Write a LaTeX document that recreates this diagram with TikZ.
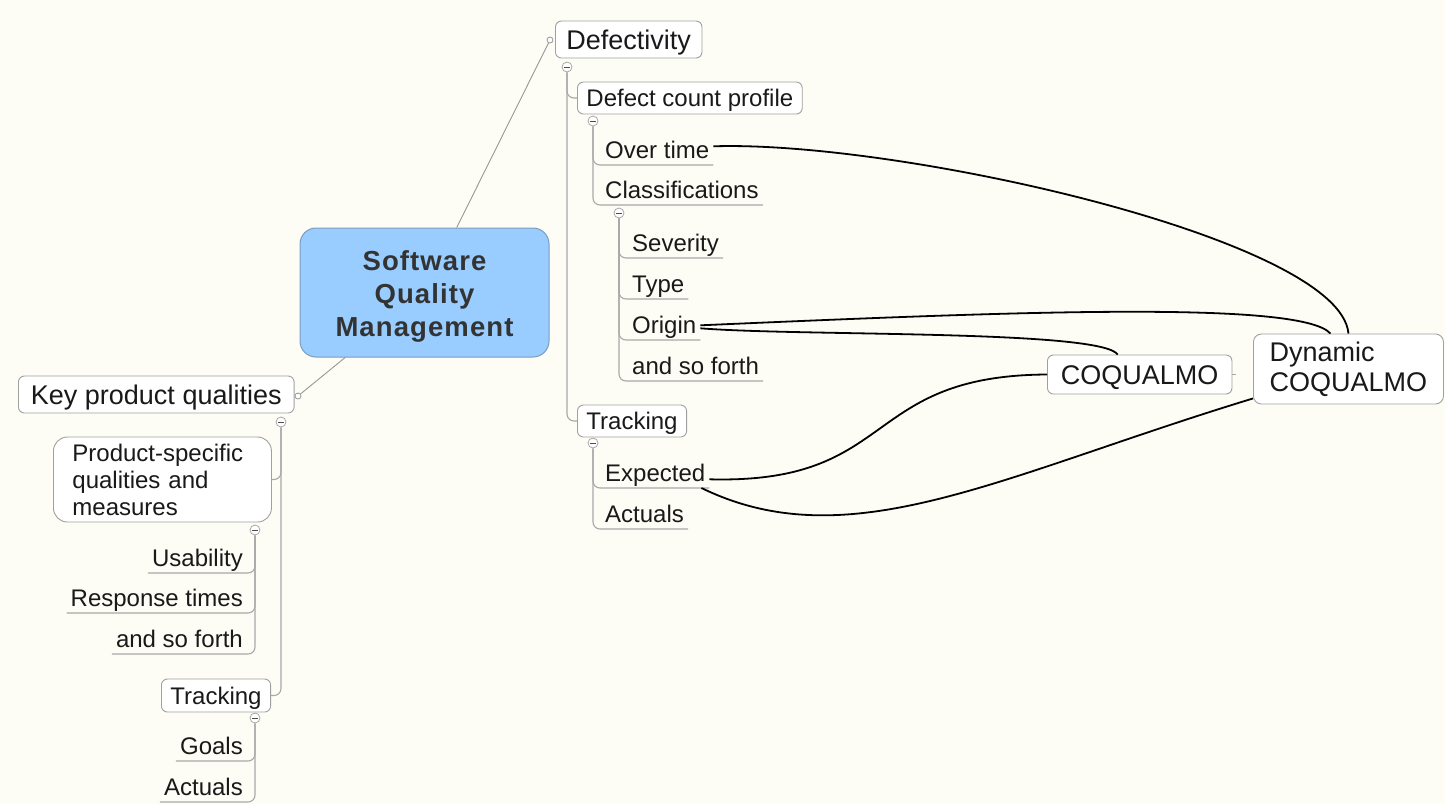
\documentclass[tikz,border=0pt]{standalone}
\usepackage{fontspec}
\setmainfont{Liberation Sans}
\newfontfamily\smqfont[LetterSpace=4]{Liberation Sans}
\usetikzlibrary{calc}
\definecolor{bgc}{RGB}{253,253,246}
\definecolor{boxline}{RGB}{160,160,160}
\definecolor{treeline}{RGB}{168,168,168}
\definecolor{txt}{RGB}{25,25,25}
\definecolor{smqfill}{RGB}{153,204,255}
\definecolor{smqline}{RGB}{125,155,190}
\definecolor{smqtxt}{RGB}{51,51,51}
\begin{document}
\begin{tikzpicture}[x=1pt,y=-1pt,
  basebox/.style={draw=boxline, fill=white, rounded corners=6pt, line width=0.9pt, text=txt, inner xsep=9pt, inner ysep=0pt},
  bigf/.style={font=\fontsize{27}{30}\selectfont},
  smf/.style={font=\fontsize{24}{27}\selectfont},
  boxb/.style={basebox, bigf, text height=24.4pt, text depth=5pt},
  boxs/.style={basebox, smf, text height=21.7pt, text depth=4.5pt},
  leafr/.style={smf, anchor=south west, inner xsep=4pt, inner ysep=1pt, text height=18pt, text depth=5pt, text=txt},
  leafl/.style={leafr, anchor=south east},
  tree/.style={draw=treeline, line width=1.1pt, rounded corners=7pt},
  rootline/.style={draw=treeline!90!black, line width=0.9pt},
  marker/.style={circle, draw=treeline, fill=white, line width=0.8pt, minimum size=10pt, inner sep=0pt,
    path picture={\draw[black!70, line width=0.9pt] ([xshift=-2.6pt]path picture bounding box.center) -- ([xshift=2.6pt]path picture bounding box.center);}},
  joint/.style={circle, draw=treeline!90!black, fill=white, line width=0.8pt, minimum size=6pt, inner sep=0pt},
  rel/.style={draw=black, line width=1.8pt},
]
\fill[bgc] (0,0) rectangle (1445,804);
\useasboundingbox (0,0) rectangle (1445,804);

% central topic
\node[draw=smqline, fill=smqfill, rounded corners=16pt, line width=1pt, minimum width=249pt, minimum height=129pt] (smq) at (424.5,292.5) {};
\node[align=center, font={\fontsize{27.5}{33}\smqfont\bfseries}, text=smqtxt, inner sep=0pt] (smqt) at ($(smq.center)+(0,3.5)$) {Software\\Quality\\Management};

% joints
\node[joint] (j1) at (550,40) {};
\node[joint] (j2) at (298,396) {};
\draw[rootline] (smq) -- (j1);
\draw[rootline] (smq) -- (j2);

% right branch
\node[boxb, anchor=west, minimum height=37pt, inner xsep=11pt] (def) at (555,39.5) {Defectivity};
\node[boxs, anchor=west, minimum height=32pt] (dcp) at (577,98) {Defect count profile};
\node[boxs, anchor=west, minimum height=32pt] (trR) at (577,421) {Tracking};
\node[leafr] (ot) at (601,165) {Over time};
\node[leafr] (cls) at (601,205) {Classifications};
\node[leafr] (sev) at (628,258) {Severity};
\node[leafr] (typ) at (628,299) {Type};
\node[leafr] (ori) at (628,340) {Origin};
\node[leafr] (asf) at (628,381) {and so forth};
\node[leafr] (exp) at (601,488) {Expected};
\node[leafr] (act) at (601,529) {Actuals};

\node[marker] (m1) at (567,67) {};
\node[marker] (m2) at (593,121) {};
\node[marker] (m3) at (619,213) {};
\node[marker] (m4) at (593,443) {};

\draw[tree] (m1.south) |- (dcp.west);
\draw[tree] (m1.south) |- (trR.west);
\draw[tree] (m2.south) |- (ot.south east);
\draw[tree] (m2.south) |- (cls.south east);
\draw[tree] (m3.south) |- (sev.south east);
\draw[tree] (m3.south) |- (typ.south east);
\draw[tree] (m3.south) |- (ori.south east);
\draw[tree] (m3.south) |- (asf.south east);
\draw[tree] (m4.south) |- (exp.south east);
\draw[tree] (m4.south) |- (act.south east);

% left branch
\node[boxb, anchor=west, minimum height=37pt, inner xsep=12.5pt] (kpq) at (18,394.5) {Key product qualities};
\node[basebox, smf, anchor=west, minimum height=85pt, minimum width=218pt, text width=180pt, align=left,
  rounded corners=14pt, inner xsep=0pt] (psq) at (53,479.5) {Product-specific\\qualities and\\measures};
\node[boxs, anchor=west, minimum height=33pt] (trL) at (161,695.5) {Tracking};
\node[leafl] (usa) at (247,573) {Usability};
\node[leafl] (rsp) at (247,613) {Response times};
\node[leafl] (asfL) at (247,654) {and so forth};
\node[leafl] (goa) at (247,761) {Goals};
\node[leafl] (actL) at (247,802) {Actuals};

\node[marker] (mL1) at (281,422) {};
\node[marker] (mL2) at (255,530) {};
\node[marker] (mL3) at (255,718) {};

\draw[tree] (mL1.south) |- (psq.east);
\draw[tree] (mL1.south) |- (trL.east);
\draw[tree] (mL2.south) |- (usa.south west);
\draw[tree] (mL2.south) |- (rsp.south west);
\draw[tree] (mL2.south) |- (asfL.south west);
\draw[tree] (mL3.south) |- (goa.south west);
\draw[tree] (mL3.south) |- (actL.south west);

% floating topics
\node[boxb, anchor=west, minimum height=39pt, inner xsep=13.5pt] (coq) at (1047,374.5) {COQUALMO};
\node[basebox, bigf, anchor=west, minimum height=70pt, minimum width=190pt, align=left, rounded corners=8pt] (dyn) at (1253,369) {Dynamic\\COQUALMO};
\draw[tree, rounded corners=0pt] (coq.east) -- ++(4,0);

% relationships
\draw[rel] ($(ot.east)+(0,-6)$) .. controls +(187,-6) and +(-8,-94) .. (dyn.north);
\draw[rel] ($(ori.east)+(0,-2)$) .. controls +(300,-13) and +(-30,-34) .. ($(dyn.north)+(-18,0)$);
\draw[rel] ($(ori.east)+(0,1)$) .. controls +(100,8) and +(-17,-25) .. ($(coq.north)+(-22,0)$);
\draw[rel] ($(exp.east)+(0,4)$) .. controls +(189,5) and +(-187,1) .. (coq.west);
\draw[rel] ($(exp.south east)+(-8,0)$) .. controls +(148,72) and +(-253,77) .. ($(dyn.south west)+(0,-6)$);
\end{tikzpicture}
\end{document}
